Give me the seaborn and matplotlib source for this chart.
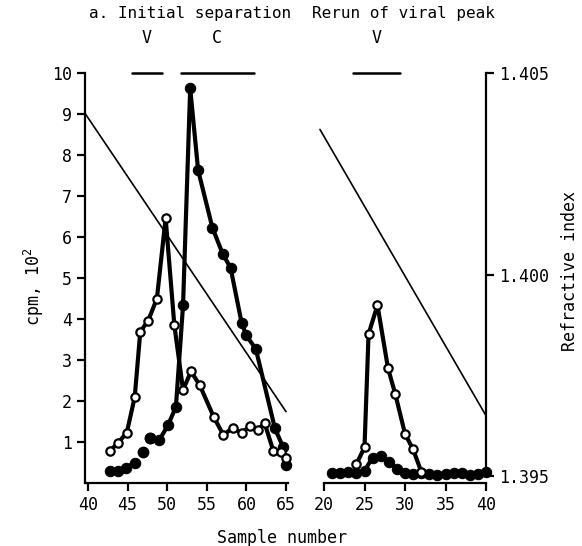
import numpy as np
import matplotlib
matplotlib.use("Agg")
import matplotlib.pyplot as plt
import seaborn as sns

# ==================================
# Data
# ==================================

# a. Initial separation - open circles
init_open_x = [42.8, 43.8, 44.9, 45.9, 46.6, 47.6, 48.7, 49.8, 50.9, 52.0, 53.0,
               54.1, 55.9, 57.1, 58.3, 59.4, 60.4, 61.4, 62.3, 63.4, 64.4, 65.0]
init_open_y = [0.79, 0.98, 1.23, 2.1, 3.69, 3.96, 4.5, 6.46, 3.85, 2.27, 2.72,
               2.39, 1.6, 1.17, 1.35, 1.21, 1.39, 1.29, 1.46, 0.78, 0.75, 0.6]

# a. Initial separation - filled circles
init_fill_x = [42.8, 43.8, 44.8, 45.9, 47.0, 47.8, 49.0, 50.1, 51.1, 52.0, 52.9,
               53.9, 55.7, 57.0, 58.0, 59.4, 60.0, 61.2, 63.6, 64.6, 65.0]
init_fill_y = [0.3, 0.29, 0.37, 0.5, 0.76, 1.09, 1.05, 1.41, 1.86, 4.34, 9.63,
               7.63, 6.23, 5.59, 5.25, 3.9, 3.6, 3.26, 1.33, 0.89, 0.44]

# Rerun of viral peak - open circles
rerun_open_x = [24.0, 25.0, 25.5, 26.6, 27.9, 28.8, 30.0, 31.0, 32.0]
rerun_open_y = [0.46, 0.87, 3.63, 4.34, 2.8, 2.17, 1.2, 0.82, 0.28]

# Rerun of viral peak - filled circles
rerun_fill_x = [21, 22, 23, 24, 25, 26, 27, 28, 29, 30, 31, 32, 33, 34, 35,
                36, 37, 38, 39, 40]
rerun_fill_y = [0.25, 0.25, 0.28, 0.25, 0.3, 0.62, 0.66, 0.52, 0.35, 0.25, 0.22,
                0.24, 0.22, 0.2, 0.22, 0.24, 0.25, 0.2, 0.22, 0.28]

# refractive index gradients (end points)
init_ri_x = [39.62, 65.0]
init_ri_y = [1.4040, 1.3966]
rerun_ri_x = [19.5, 40.0]
rerun_ri_y = [1.4036, 1.3965]

# fraction bars
init_bars = {"V": (45.5, 49.4), "C": (51.75, 60.9)}
rerun_bars = {"V": (23.6, 29.4)}

# ==================================
# Style
# ==================================

sns.set_style("ticks")
plt.rcParams['font.family'] = ['DejaVu Sans Mono', 'DejaVu Sans']
plt.rcParams['mathtext.fontset'] = 'custom'
plt.rcParams['mathtext.rm'] = 'DejaVu Sans Mono'
plt.rcParams['mathtext.it'] = 'DejaVu Sans Mono'
plt.rcParams['text.color'] = 'black'
plt.rcParams['axes.labelcolor'] = 'black'
plt.rcParams['axes.linewidth'] = 1.6
plt.rcParams['xtick.major.width'] = 1.6
plt.rcParams['ytick.major.width'] = 1.6
plt.rcParams['xtick.major.size'] = 6
plt.rcParams['ytick.major.size'] = 6
plt.rcParams['xtick.labelsize'] = 12
plt.rcParams['ytick.labelsize'] = 12
plt.rcParams['xtick.color'] = 'black'
plt.rcParams['ytick.color'] = 'black'
plt.rcParams['axes.edgecolor'] = 'black'

W, H = 582, 546
fig = plt.figure(figsize=(W / 100, H / 100), dpi=100)


def rect(x0, x1, y0, y1):
    return [x0 / W, 1 - y1 / H, (x1 - x0) / W, (y1 - y0) / H]


ax1 = fig.add_axes(rect(85, 288, 73, 483))
ax2 = fig.add_axes(rect(324, 486, 73, 483))
ax1r = ax1.twinx()
ax2r = ax2.twinx()

RI_LIM = (1.39483, 1.405)

open_kw = dict(color='black', linewidth=3, marker='o', markersize=6,
               markerfacecolor='white', markeredgecolor='black',
               markeredgewidth=1.6, sort=False)
fill_kw = dict(color='black', linewidth=3, marker='o', markersize=7.5,
               markerfacecolor='black', markeredgecolor='black', sort=False)

# ==================================
# Left panel
# ==================================

sns.lineplot(x=init_fill_x[5:], y=init_fill_y[5:], ax=ax1, clip_on=False, **fill_kw)
sns.lineplot(x=init_fill_x[:4], y=init_fill_y[:4], ax=ax1, clip_on=False, **fill_kw)
ax1.plot(init_fill_x[4:6], init_fill_y[4:6], 'o', color='black', markersize=7.5,
         clip_on=False)
sns.lineplot(x=init_open_x, y=init_open_y, ax=ax1, clip_on=False, **open_kw)

ax1.set_xlim(39.62, 65.25)
ax1.set_ylim(0, 10)
ax1.set_xticks([40, 45, 50, 55, 60, 65])
ax1.set_yticks(range(1, 11))
ax1.spines['top'].set_visible(False)
ax1.spines['right'].set_visible(False)
ax1.set_xlabel("")
ax1.set_ylabel("")

sns.lineplot(x=init_ri_x, y=init_ri_y, ax=ax1r, color='black', linewidth=1.2,
             sort=False)
ax1r.set_ylim(*RI_LIM)
ax1r.axis('off')

for lab, (a, b) in init_bars.items():
    ax1.plot([a, b], [10, 10], color='black', linewidth=1.8, clip_on=False)
    ax1.text((a + b) / 2, 10.85, lab, ha='center', va='center', fontsize=12)

ax1.text(0.52, 1.145, "a. Initial separation", transform=ax1.transAxes,
         ha='center', va='center', fontsize=11.5)

# ==================================
# Right panel
# ==================================

sns.lineplot(x=rerun_fill_x, y=rerun_fill_y, ax=ax2, clip_on=False, **fill_kw)
sns.lineplot(x=rerun_open_x, y=rerun_open_y, ax=ax2, clip_on=False, **open_kw)

ax2.set_xlim(20, 40)
ax2.set_ylim(0, 10)
ax2.set_xticks([20, 25, 30, 35, 40])
ax2.set_yticks([])
for s in ['top', 'right', 'left']:
    ax2.spines[s].set_visible(False)
ax2.set_xlabel("")
ax2.set_ylabel("")

sns.lineplot(x=rerun_ri_x, y=rerun_ri_y, ax=ax2r, color='black', linewidth=1.2,
             sort=False)
ax2r.set_ylim(*RI_LIM)
ax2r.set_yticks([1.395, 1.400, 1.405])
ax2r.set_yticklabels(["1.395", "1.400", "1.405"])
ax2r.spines['right'].set_bounds(1.395, 1.405)
for s in ['top', 'left', 'bottom']:
    ax2r.spines[s].set_visible(False)
ax2r.set_ylabel("")
ax2r.set_xlim(20, 40)
ax2r.lines[0].set_clip_on(False)

for lab, (a, b) in rerun_bars.items():
    ax2.plot([a, b], [10, 10], color='black', linewidth=1.8, clip_on=False)
    ax2.text((a + b) / 2, 10.85, lab, ha='center', va='center', fontsize=12)

ax2.text(0.49, 1.145, "Rerun of viral peak", transform=ax2.transAxes,
         ha='center', va='center', fontsize=11.5)

# axis labels placed in figure pixels
fig.text(282 / W, 1 - 538 / H, "Sample number", ha='center', va='center',
         fontsize=12)
fig.text(34 / W, 1 - 287 / H, r"cpm, 10$^{2}$", ha='center', va='center',
         rotation=90, fontsize=12)
fig.text(570 / W, 1 - 271 / H, "Refractive index", ha='center', va='center',
         rotation=90, fontsize=12)

fig.savefig("out.png", dpi=100)
